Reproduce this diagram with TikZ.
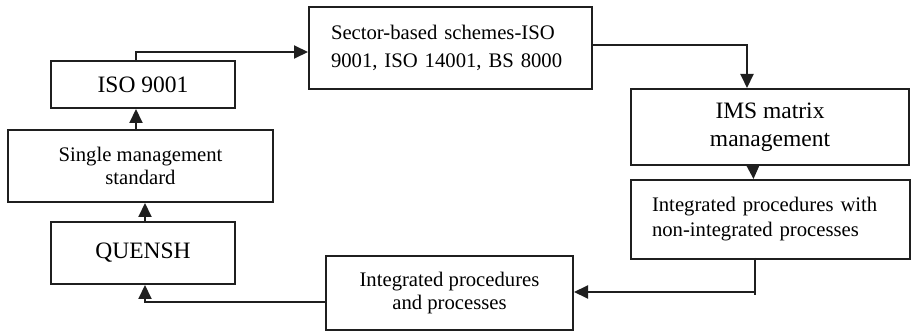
\documentclass[tikz,border=0pt]{standalone}
\usepackage{fontspec}
\setmainfont{Liberation Serif}
\usetikzlibrary{arrows.meta}
\tikzset{
  box/.style={draw=black!88, line width=2pt, inner sep=0pt, align=center},
  bigtext/.style={font=\fontsize{23.5}{28}\selectfont},
  smalltext/.style={font=\fontsize{20.7}{23}\selectfont},
  conn/.style={draw=black!88, line width=2pt},
  arr/.style={conn, -{Triangle[length=14pt,width=13pt]}}
}
\begin{document}
\begin{tikzpicture}[x=1pt,y=-1pt]
\useasboundingbox (0,0) rectangle (911,331);
% left column
\node[box, bigtext, minimum width=184pt, minimum height=47pt] (iso) at (143,84.5) {ISO 9001};
\node[box, smalltext, minimum width=265pt, minimum height=72pt] (single) at (140.5,166) {Single management\\standard};
\node[box, bigtext, minimum width=184pt, minimum height=62pt] (quensh) at (143,253) {QUENSH};
% top and right
\node[box, font=\fontsize{20.7}{28}\selectfont, minimum width=283pt, minimum height=82pt,
      text width=283pt, align=left] (sector) at (450.5,48)
      {\hspace*{22pt}Sector-based schemes-ISO\\\hspace*{22pt}9001, ISO 14001, BS 8000};
\node[box, bigtext, minimum width=278pt, minimum height=76pt] (ims) at (770,127) {IMS matrix\\management};
\node[box, font=\fontsize{20.7}{25}\selectfont, minimum width=279pt, minimum height=79pt,
      text width=279pt, align=left] (iw) at (770.5,219.5)
      {\hspace*{21pt}Integrated procedures with\\\hspace*{21pt}non-integrated processes};
% bottom
\node[box, smalltext, minimum width=247pt, minimum height=74pt] (ip) at (449.5,293) {Integrated procedures\\and processes};
% connectors
\draw[arr] ([xshift=-7pt]iso.north) |- ([yshift=-4pt]sector.west);
\draw[arr] ([yshift=3pt]sector.east) -| ([xshift=-23pt]ims.north);
\draw[arr] ([xshift=-17pt]ims.south) -- ([xshift=-17pt]iw.north);
\coordinate (turn) at (755,295);
\draw[conn] ([xshift=-15.5pt,yshift=2pt]iw.south) -- (turn);
\draw[arr] ([yshift=3pt]turn) -- ([yshift=1pt]ip.east);
\draw[arr] ([yshift=-9pt]ip.west) -| ([xshift=2pt]quensh.south);
\draw[arr] ([xshift=2pt]quensh.north) -- ([xshift=4.5pt]single.south);
\draw[arr] ([xshift=-4.5pt]single.north) -- ([xshift=-7pt]iso.south);
\end{tikzpicture}
\end{document}
